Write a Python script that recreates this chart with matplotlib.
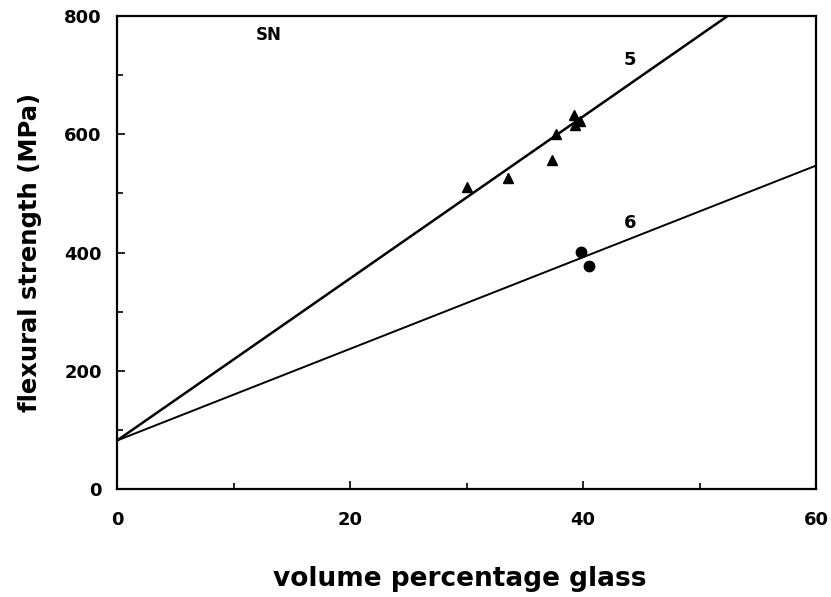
import matplotlib
matplotlib.use('Agg')
import matplotlib.pyplot as plt
import numpy as np

plt.rcParams['font.family'] = ['DejaVu Sans']
plt.rcParams['font.weight'] = 'bold'

# measured points, series 5 (triangles) and series 6 (circles)
glass_5 = [30.0, 33.6, 37.3, 37.7, 39.2, 39.3, 39.7]
strength_5 = [511, 526, 557, 600, 632, 615, 622]
glass_6 = [39.8, 40.5]
strength_6 = [401, 377]

# fitted lines: intercept and slope (MPa per vol%)
fit_5 = (82, 13.7)
fit_6 = (82, 7.75)

x_ticks = [0, 20, 40, 60]
y_ticks = [0, 200, 400, 600, 800]

fig = plt.figure(figsize=(8.31, 5.97), dpi=100)
ax = fig.add_axes([0.1408, 0.1809, 0.8412, 0.7923])

xs = np.array([0, 60])
ax.plot(xs, fit_5[0] + fit_5[1] * xs, color='black', linewidth=1.8)
ax.plot(xs, fit_6[0] + fit_6[1] * xs, color='black', linewidth=1.4)

ax.plot(glass_5, strength_5, linestyle='none', marker='^', color='black', markersize=7.5)
ax.plot(glass_6, strength_6, linestyle='none', marker='o', color='black', markersize=7.5)

ax.text(13, 768, 'SN', ha='center', va='center', fontsize=12, fontweight='bold')
ax.text(44, 725, '5', ha='center', va='center', fontsize=13, fontweight='bold')
ax.text(44, 450, '6', ha='center', va='center', fontsize=13, fontweight='bold')

ax.set_xlim(0, 60)
ax.set_ylim(0, 800)
ax.set_xticks(x_ticks)
ax.set_yticks(y_ticks)
ax.set_xticks([10, 30, 50], minor=True)
ax.set_yticks([100, 300, 500, 700], minor=True)
ax.tick_params(which='both', direction='in', width=1.2)
ax.tick_params(which='major', length=6, labelsize=13)
ax.tick_params(which='minor', length=4)
ax.tick_params(axis='y', which='major', pad=11)
ax.tick_params(axis='x', which='major', pad=16)
for lbl in ax.get_xticklabels() + ax.get_yticklabels():
    lbl.set_fontweight('bold')
for sp in ax.spines.values():
    sp.set_linewidth(1.6)

ax.set_xlabel('volume percentage glass', fontsize=19, fontweight='bold')
ax.set_ylabel('flexural strength (MPa)', fontsize=17.5, fontweight='bold')
ax.xaxis.set_label_coords(0.491, -0.163)
ax.yaxis.set_label_coords(-0.108, 0.5)

fig.savefig('out.png', dpi=100)
